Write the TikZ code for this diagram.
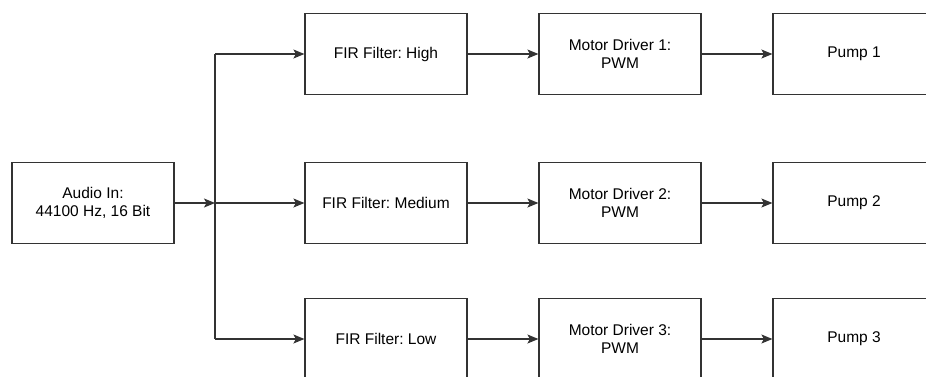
\documentclass[tikz,border=0pt]{standalone}
\usepackage{fontspec}
\setmainfont{Liberation Sans}
\usetikzlibrary{arrows.meta}
\frenchspacing
\begin{document}
\begin{tikzpicture}[x=1pt,y=-1pt,
  block/.style={draw=black!80, line width=1.2pt, fill=white, minimum width=162pt,
    minimum height=81pt, inner sep=2pt, align=center,
    font=\fontsize{15.5}{17.5}\selectfont},
  flow/.style={draw=black!80, line width=1.2pt, -{Stealth[length=11pt,width=9pt,inset=2.5pt]}},
  wire/.style={draw=black!80, line width=1.2pt}]
\clip (0,0) rectangle (926,376);
\fill[white] (0,0) rectangle (926,376);

% source
\node[block] (audio) at (93,203) {Audio In:\\44100 Hz, 16 Bit};

% filter bank
\node[block] (firH) at (386,54) {FIR Filter: High};
\node[block] (firM) at (386,203) {FIR Filter: Medium};
\node[block] (firL) at (386,339) {FIR Filter: Low};

% motor drivers
\node[block] (mot1) at (620,54) {Motor Driver 1:\\PWM};
\node[block] (mot2) at (620,203) {Motor Driver 2:\\PWM};
\node[block] (mot3) at (620,339) {Motor Driver 3:\\PWM};

% pumps
\node[block] (pump1) at (854,54) {Pump 1};
\node[block] (pump2) at (854,203) {Pump 2};
\node[block] (pump3) at (854,339) {Pump 3};

% split point
\coordinate (split) at (215,203);
\coordinate (splitT) at (215,54);
\coordinate (splitB) at (215,339);

\draw[wire] (splitT) -- (splitB);
\draw[flow] (audio.east) -- (split);
\draw[flow] (split) -- (firM.west);
\draw[flow] (splitT) -- (firH.west);
\draw[flow] (splitB) -- (firL.west);

\draw[flow] (firH) -- (mot1);
\draw[flow] (firM) -- (mot2);
\draw[flow] (firL) -- (mot3);
\draw[flow] (mot1) -- (pump1);
\draw[flow] (mot2) -- (pump2);
\draw[flow] (mot3) -- (pump3);
\end{tikzpicture}
\end{document}
